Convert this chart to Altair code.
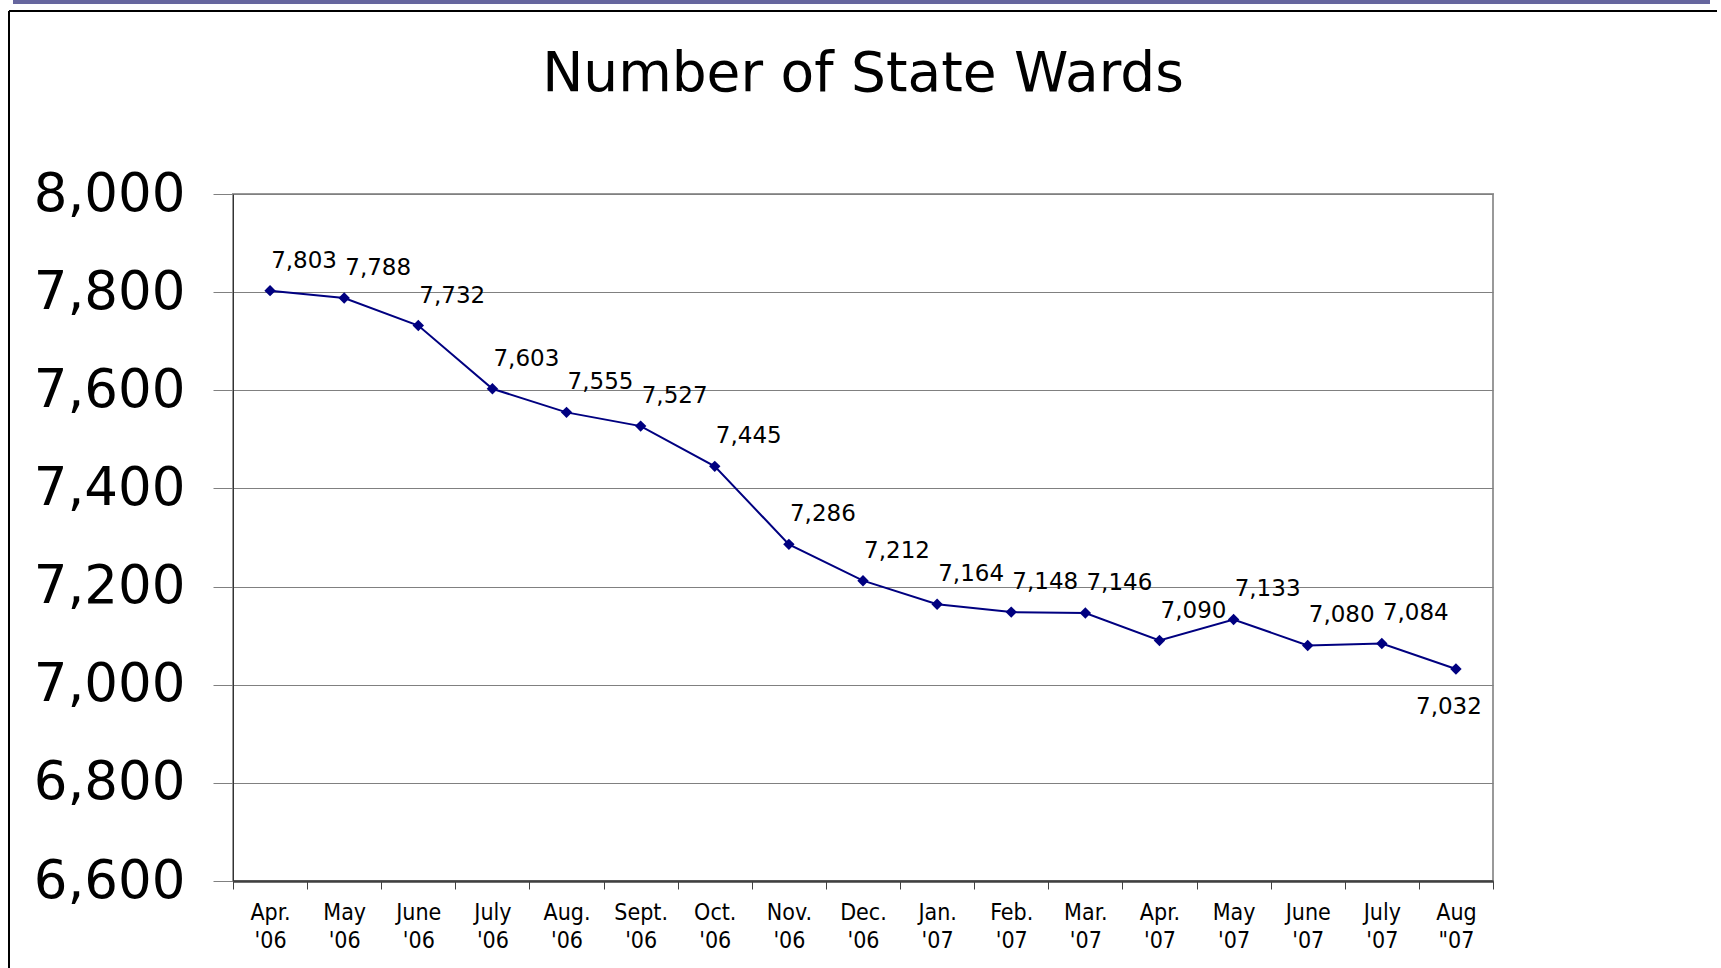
import altair as alt
import pandas as pd

months = ["Apr. '06", "May '06", "June '06", "July '06", "Aug. '06", "Sept. '06",
          "Oct. '06", "Nov. '06", "Dec. '06", "Jan. '07", "Feb. '07", "Mar. '07",
          "Apr. '07", "May '07", "June '07", "July '07", "Aug \"07"]
wards = [7803, 7788, 7732, 7603, 7555, 7527, 7445, 7286, 7212, 7164, 7148, 7146,
         7090, 7133, 7080, 7084, 7032]
y_ticks = [6600, 6800, 7000, 7200, 7400, 7600, 7800, 8000]

df = pd.DataFrame({"month": months, "wards": wards, "idx": list(range(len(months)))})

LABEL_FONT = "DejaVu Sans"
XFONT = "Liberation Sans Narrow, DejaVu Sans Condensed, Liberation Sans, sans-serif"

x_enc = alt.X(
    "month:N", sort=months, bandPosition=0.5,
    scale=alt.Scale(type="band", paddingInner=0, paddingOuter=0),
    axis=alt.Axis(title=None, labelAngle=0, tickBand="extent", grid=False,
                  labelExpr="split(datum.label, ' ')",
                  labelFont=XFONT, labelFontSize=23, labelLineHeight=28,
                  labelColor="black", labelPadding=12,
                  domainColor="#404040", domainWidth=2.5,
                  tickColor="#404040", tickSize=8, tickWidth=1),
)
y_enc = alt.Y(
    "wards:Q",
    scale=alt.Scale(domain=[6600, 8000], nice=False, zero=False),
    axis=alt.Axis(title=None, values=y_ticks, format=",d",
                  labelFont=LABEL_FONT, labelFontSize=53, labelColor="black",
                  labelPadding=28, tickSize=20, tickColor="#808080", tickWidth=1,
                  domainColor="#333333", domainWidth=1,
                  grid=True, gridColor="#808080", gridWidth=1),
)

base = alt.Chart(df)

line = base.mark_line(color="#000080", strokeWidth=2).encode(x=x_enc, y=y_enc)
pts = base.mark_point(shape="diamond", filled=True, size=130, color="#000080",
                      opacity=1).encode(x=x_enc, y=y_enc)
labels_up = base.transform_filter(f"datum.idx < {len(months) - 1}").mark_text(
    font=LABEL_FONT, fontSize=23, color="black", dx=34, dy=-30
).encode(x=x_enc, y=y_enc, text=alt.Text("wards:Q", format=",d"))
labels_down = base.transform_filter(f"datum.idx == {len(months) - 1}").mark_text(
    font=LABEL_FONT, fontSize=23, color="black", dx=-7, dy=38
).encode(x=x_enc, y=y_enc, text=alt.Text("wards:Q", format=",d"))

# slide frame decorations
bar_top = base.mark_rule(color="#66669e", strokeWidth=4).encode(
    x=alt.value(-220), x2=alt.value(1477), y=alt.value(-192))
line_top = base.mark_rule(color="black", strokeWidth=2).encode(
    x=alt.value(-224), x2=alt.value(1484), y=alt.value(-183))
line_left = base.mark_rule(color="black", strokeWidth=2).encode(
    x=alt.value(-224), y=alt.value(-183), y2=alt.value(780))

chart = alt.layer(bar_top, line_top, line_left, line, pts, labels_up, labels_down).properties(
    width=1260, height=687,
    autosize=alt.AutoSizeParams(type="none"),
    padding={"left": 233, "top": 194, "right": 228, "bottom": 87},
    background="white",
    title=alt.TitleParams("Number of State Wards", font=LABEL_FONT, fontSize=55,
                          fontWeight="normal", color="black", anchor="middle",
                          frame="group", offset=-103),
).configure_view(stroke="#999999", strokeWidth=2)

chart.save("out.html", embed_options={"renderer": "svg", "actions": False})
